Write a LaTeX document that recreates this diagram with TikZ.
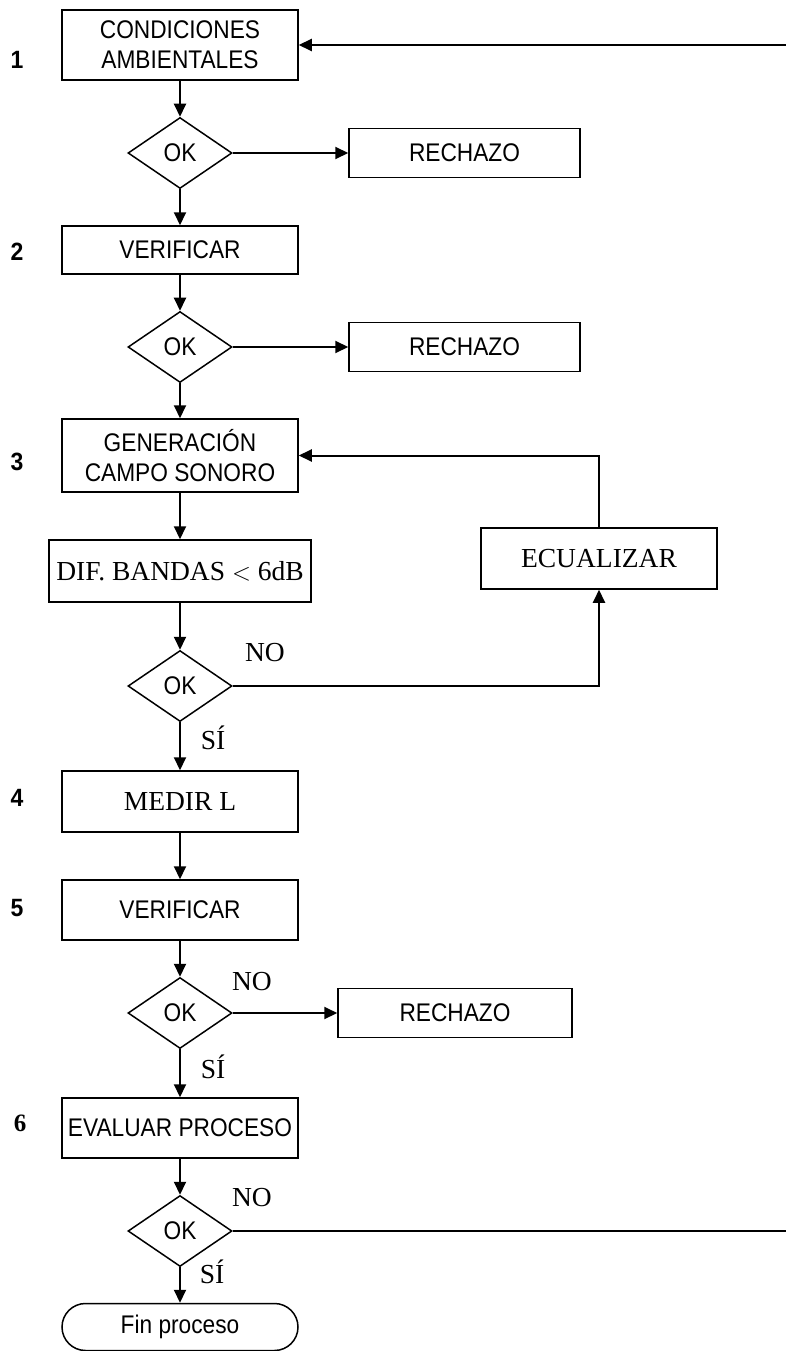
\documentclass[tikz,border=0pt]{standalone}
\usepackage{fontspec}
\usetikzlibrary{shapes.geometric,shapes.misc,arrows.meta}
\newfontfamily\sansf[FakeStretch=0.89]{Liberation Sans}
\newfontfamily\sansb[FakeStretch=0.92]{Liberation Sans Bold}
\newfontfamily\serf{Liberation Serif}
\newfontfamily\serfb{Liberation Serif Bold}
\newcommand{\stxt}{\sansf\fontsize{25.5}{30}\selectfont}
\newcommand{\rtxt}{\serf\fontsize{27.5}{30}\selectfont}
\begin{document}
\begin{tikzpicture}[x=1pt,y=-1pt,
  stepbox/.style={draw,line width=1.5pt,inner sep=0pt,align=center,font=\stxt},
  decbox/.style={draw,diamond,line width=1.5pt,inner sep=0pt,minimum width=104pt,minimum height=71pt,font=\stxt},
  endbox/.style={draw,rounded rectangle,line width=1.5pt,inner sep=0pt,font=\stxt},
  numlbl/.style={font=\sansb\fontsize{25}{28}\selectfont},
  yn/.style={font=\rtxt},
  conn/.style={line width=2pt,-{Triangle[length=13pt,width=12pt]}},
  plain/.style={line width=2pt}]
\useasboundingbox (0,0) rectangle (786,1351);
% nodes
\node[stepbox,minimum width=236pt,minimum height=70pt] (b1) at (180,45) {CONDICIONES\\AMBIENTALES};
\node[decbox] (d1) at (180,153) {OK};
\node[stepbox,minimum width=231pt,minimum height=49pt] (r1) at (464.5,153) {RECHAZO};
\node[stepbox,minimum width=236pt,minimum height=48pt] (b2) at (180,250) {VERIFICAR};
\node[decbox] (d2) at (180,347) {OK};
\node[stepbox,minimum width=231pt,minimum height=49pt] (r2) at (464.5,347) {RECHAZO};
\node[stepbox,minimum width=236pt,minimum height=73pt] (b3) at (180,455.5) {GENERACIÓN\\CAMPO SONORO};
\node[stepbox,minimum width=262pt,minimum height=62pt,font=\rtxt] (b3b) at (180,571) {DIF. BANDAS $<$ 6dB};
\node[decbox] (d3) at (180,686) {OK};
\node[stepbox,minimum width=236pt,minimum height=61pt,font=\rtxt] (eq) at (599,558.5) {ECUALIZAR};
\node[stepbox,minimum width=236pt,minimum height=61pt,font=\rtxt] (b4) at (180,801.5) {MEDIR L};
\node[stepbox,minimum width=236pt,minimum height=60pt] (b5) at (180,910) {VERIFICAR};
\node[decbox] (d4) at (180,1013) {OK};
\node[stepbox,minimum width=234pt,minimum height=49pt] (r3) at (455,1013) {RECHAZO};
\node[stepbox,minimum width=236pt,minimum height=60pt] (b6) at (180,1128) {EVALUAR PROCESO};
\node[decbox] (d5) at (180,1231) {OK};
\node[endbox,minimum width=236pt,minimum height=47pt] (fin) at (180,1327) {Fin proceso};
% step numbers
\node[numlbl] (n1) at (17,60) {1};
\node[numlbl] (n2) at (17,252) {2};
\node[numlbl] (n3) at (17,462) {3};
\node[numlbl] (n4) at (17,798) {4};
\node[numlbl] (n5) at (17,908) {5};
\node[font=\serfb\fontsize{25}{28}\selectfont] (n6) at (20,1123) {6};
% yes/no labels
\node[yn] (no3) at (265,653) {NO};
\node[yn] (si3) at (213,738) {SÍ};
\node[yn] (no4) at (252,982) {NO};
\node[yn] (si4) at (213,1067) {SÍ};
\node[yn] (no5) at (252,1198) {NO};
\node[yn] (si5) at (212,1272) {SÍ};
% free ends at right edge
\coordinate (e1) at (786,45);
\coordinate (e5) at (786,1231);
% connectors
\draw[conn] (e1) -- (b1.east);
\draw[conn] (b1) -- (d1);
\draw[conn] (d1) -- (r1);
\draw[conn] (d1) -- (b2);
\draw[conn] (b2) -- (d2);
\draw[conn] (d2) -- (r2);
\draw[conn] (d2) -- (b3);
\draw[conn] (b3) -- (b3b);
\draw[conn] (b3b) -- (d3);
\draw[conn] (d3.east) -| (eq.south);
\draw[conn] (eq.north) |- (b3.east);
\draw[conn] (d3) -- (b4);
\draw[conn] (b4) -- (b5);
\draw[conn] (b5) -- (d4);
\draw[conn] (d4) -- (r3);
\draw[conn] (d4) -- (b6);
\draw[conn] (b6) -- (d5);
\draw[conn] (d5) -- (fin);
\draw[plain] (d5.east) -- (e5);
\end{tikzpicture}
\end{document}
